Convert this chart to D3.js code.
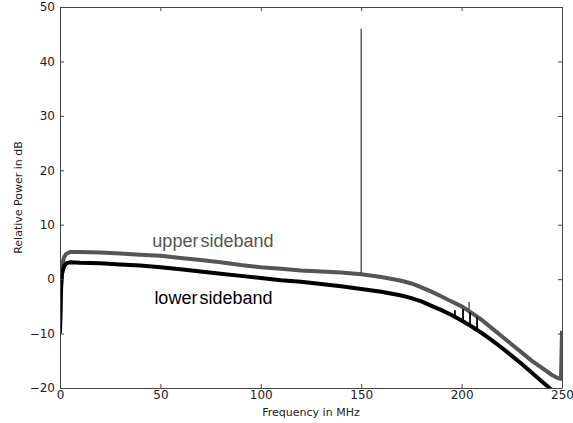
<!DOCTYPE html>
<html>
<head>
<meta charset="utf-8">
<script src="https://cdn.jsdelivr.net/npm/d3@7"></script>
<style>
  body { margin: 0; background: #fff; }
  svg { display: block; }
  .tick text { font-family: "DejaVu Sans", sans-serif; font-size: 12px; fill: #222; }
</style>
</head>
<body>
<script>
// frequency grid (MHz) and the two sideband spectra (dB)
var freq  = [0, 0.5, 1, 2, 3, 5, 10, 20, 30, 40, 50, 60, 70, 80, 90, 100, 110, 120, 130, 140,
             150, 160, 170, 175, 180, 185, 190, 195, 200, 205, 210, 215, 220, 225, 230, 235,
             240, 245, 248, 249.5, 250];
var upper = [-9, -1, 2.5, 4.0, 4.6, 5.0, 5.0, 4.9, 4.7, 4.5, 4.3, 3.9, 3.5, 3.1, 2.6, 2.2, 1.9, 1.6, 1.4, 1.2,
             0.9, 0.4, -0.3, -0.8, -1.5, -2.3, -3.2, -4.1, -5.0, -6.2, -7.5, -9.0, -10.5, -12.0, -13.5, -15.0,
             -16.3, -17.6, -18.2, -18.3, -9.5];
var lower = [-10, -2, 1.0, 2.3, 2.9, 3.1, 3.0, 2.9, 2.7, 2.5, 2.2, 1.8, 1.4, 1.0, 0.6, 0.2, -0.2, -0.5, -0.9, -1.3,
             -1.8, -2.3, -3.0, -3.5, -4.1, -4.9, -5.7, -6.6, -7.6, -8.7, -9.9, -11.2, -12.6, -14.1, -15.6, -17.2,
             -18.8, -20.4, -21.4, -22, -22];
// carrier spike and small spurs (f in MHz, lo/hi in dB)
var carrier = [{f: 150, lo: 0.9, hi: 46}];
var lowerSpurs = [{f: 196.7, lo: -7.0, hi: -5.7}, {f: 200.7, lo: -7.8, hi: -5.5},
                  {f: 204.2, lo: -8.6, hi: -6.1}, {f: 207.7, lo: -9.3, hi: -7.0}];
var upperSpurs = [{f: 203.7, lo: -5.6, hi: -4.2}];
var xTicks = [0, 50, 100, 150, 200, 250];
var yTicks = [-20, -10, 0, 10, 20, 30, 40, 50];

var width = 573, height = 423;
var margin = {top: 7, right: 11, bottom: 35, left: 60};
var w = width - margin.left - margin.right;
var h = height - margin.top - margin.bottom;

var svg = d3.select("body").append("svg")
    .attr("width", width)
    .attr("height", height);

svg.append("defs").append("clipPath").attr("id", "clip")
  .append("rect").attr("width", w).attr("height", h);

var g = svg.append("g")
    .attr("transform", "translate(" + margin.left + "," + margin.top + ")");

var x = d3.scaleLinear().domain([0, 250]).range([0, w]);
var y = d3.scaleLinear().domain([-20, 50]).range([h, 0]);

var fmt = function(d) { return d < 0 ? "\u2212" + Math.abs(d) : d; };

var plot = g.append("g").attr("clip-path", "url(#clip)");

var line = d3.line()
    .x(function(d) { return x(d[0]); })
    .y(function(d) { return y(d[1]); });

plot.append("path")
    .datum(d3.zip(freq, upper))
    .attr("d", line)
    .attr("fill", "none")
    .attr("stroke", "#555")
    .attr("stroke-width", 4);

plot.append("path")
    .datum(d3.zip(freq, lower))
    .attr("d", line)
    .attr("fill", "none")
    .attr("stroke", "#000")
    .attr("stroke-width", 4);

plot.selectAll(".carrier").data(carrier).enter().append("line")
    .attr("class", "carrier")
    .attr("x1", function(d) { return x(d.f); }).attr("x2", function(d) { return x(d.f); })
    .attr("y1", function(d) { return y(d.lo); }).attr("y2", function(d) { return y(d.hi); })
    .attr("stroke", "#444").attr("stroke-width", 1.3);

plot.selectAll(".lspur").data(lowerSpurs).enter().append("line")
    .attr("class", "lspur")
    .attr("x1", function(d) { return x(d.f); }).attr("x2", function(d) { return x(d.f); })
    .attr("y1", function(d) { return y(d.lo); }).attr("y2", function(d) { return y(d.hi); })
    .attr("stroke", "#000").attr("stroke-width", 1.8);

plot.selectAll(".uspur").data(upperSpurs).enter().append("line")
    .attr("class", "uspur")
    .attr("x1", function(d) { return x(d.f); }).attr("x2", function(d) { return x(d.f); })
    .attr("y1", function(d) { return y(d.lo); }).attr("y2", function(d) { return y(d.hi); })
    .attr("stroke", "#555").attr("stroke-width", 1.5);

// axes, ticks inside on all four sides
var axB = g.append("g").attr("transform", "translate(0," + h + ")")
    .call(d3.axisBottom(x).tickValues(xTicks).tickSizeInner(-4).tickSizeOuter(0).tickPadding(2).tickFormat(fmt));
var axL = g.append("g")
    .call(d3.axisLeft(y).tickValues(yTicks).tickSizeInner(-4).tickSizeOuter(0).tickPadding(5).tickFormat(fmt));
var axT = g.append("g")
    .call(d3.axisTop(x).tickValues(xTicks).tickSizeInner(-4).tickSizeOuter(0).tickFormat(""));
var axR = g.append("g").attr("transform", "translate(" + w + ",0)")
    .call(d3.axisRight(y).tickValues(yTicks).tickSizeInner(-4).tickSizeOuter(0).tickFormat(""));

[axB, axL, axT, axR].forEach(function(a) {
    a.select(".domain").attr("stroke", "#444");
    a.selectAll(".tick line").attr("stroke", "#444");
});

// labels
svg.append("text")
    .attr("x", margin.left + w / 2).attr("y", 416)
    .attr("text-anchor", "middle")
    .style("font-family", "DejaVu Sans, sans-serif").style("font-size", "11px").style("fill", "#222")
    .text("Frequency in MHz");

svg.append("text")
    .attr("transform", "translate(22," + (margin.top + h / 2) + ") rotate(-90)")
    .attr("text-anchor", "middle")
    .style("font-family", "DejaVu Sans, sans-serif").style("font-size", "11px").style("fill", "#222")
    .text("Relative Power in dB");

g.append("text")
    .attr("x", x(46)).attr("y", y(5.9))
    .style("font-family", "Liberation Sans, Arial, sans-serif").style("font-size", "18px")
    .style("fill", "#555").style("word-spacing", "-3px")
    .text("upper sideband");

g.append("text")
    .attr("x", x(47)).attr("y", y(-4.5))
    .style("font-family", "Liberation Sans, Arial, sans-serif").style("font-size", "18px")
    .style("fill", "#000").style("word-spacing", "-3px")
    .text("lower sideband");
</script>
</body>
</html>
